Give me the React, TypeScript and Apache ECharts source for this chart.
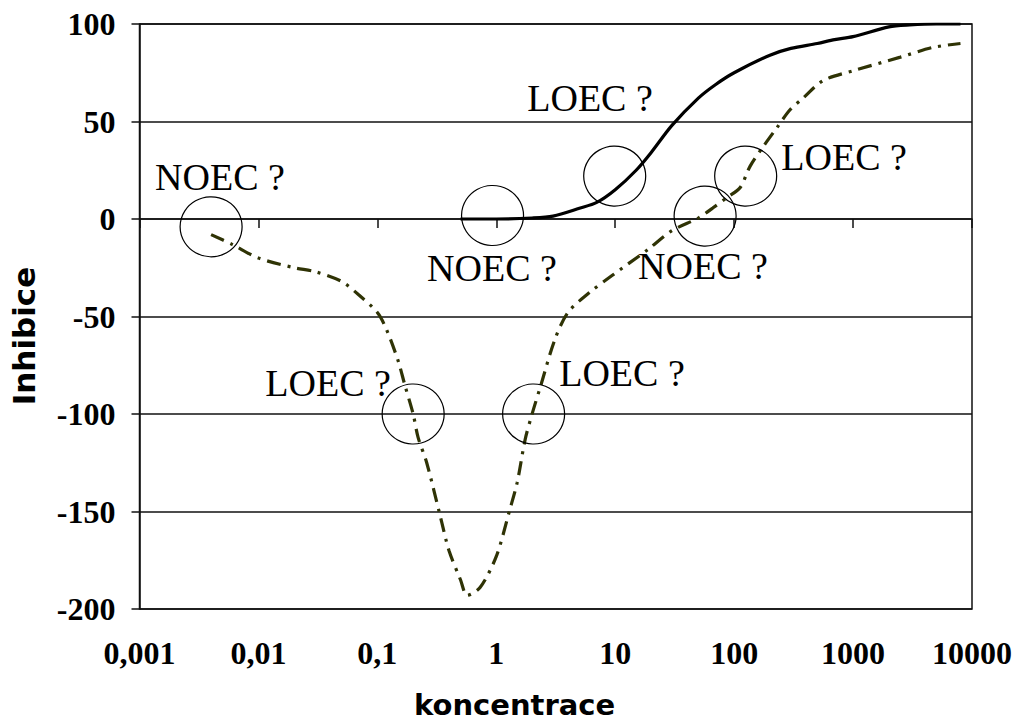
import React, { useEffect, useRef } from "react";
import * as echarts from "echarts";

// concentration values (log axis) and inhibition (%)
const solidConc = [0.5, 1, 2, 3, 5, 7, 10, 15, 20, 30, 50, 70, 100, 200, 300, 500, 700, 1000, 2000, 3000, 5000, 8000];
const solidInhib = [0, 0, 0.5, 1.5, 5.5, 8.5, 15, 25, 34, 48, 62, 69, 75, 84, 87.5, 90, 92, 93.5, 98.5, 99.5, 100, 100];

const dashConc = [0.004, 0.006, 0.01, 0.02, 0.03, 0.05, 0.07, 0.1, 0.12, 0.15, 0.17, 0.2, 0.22, 0.26, 0.34, 0.4, 0.5, 0.57, 0.73, 1, 1.3, 1.5, 1.75, 2, 2.35, 3.1, 4, 6, 9.4, 18.5, 30, 50, 66, 87, 112, 136, 175, 230, 295, 380, 560, 1000, 2500, 4700, 8000];
const dashInhib = [-8, -13, -20, -25, -27, -32, -39, -48, -57, -73, -85, -100, -112, -125, -153, -170, -185, -193, -189, -173, -149, -135, -113, -100, -86, -62, -48, -38, -29, -16, -6, 0.5, 5.6, 11, 16, 27, 37, 47, 56, 62, 71, 76, 83, 88, 90];

// annotation circles (concentration, inhibition)
const circleConc = [0.004, 0.2, 2.06, 0.93, 9.9, 57, 125];
const circleInhib = [-4, -100, -100, 1.8, 22, 1.5, 22];

// annotation texts
const noteText = ["NOEC ?", "LOEC ?", "LOEC ?", "NOEC ?", "LOEC ?", "NOEC ?", "LOEC ?"];
const noteConc = [0.00475, 0.0385, 11.4, 0.92, 6.14, 54.7, 840];
const noteInhib = [21.5, -84, -79, -25, 62, -24, 31.8];

const xTickLabels = ["0,001", "0,01", "0,1", "1", "10", "100", "1000", "10000"];
const yTicks = [-200, -150, -100, -50, 0, 50, 100];

const xTitle = "koncentrace";
const yTitle = "Inhibice";

export default function App() {
  const ref = useRef<HTMLDivElement>(null);
  useEffect(() => {
    if (!ref.current) return;
    const chart = echarts.init(ref.current, null, { renderer: "svg" });
    const serif = "'Liberation Serif', 'Times New Roman', serif";
    const sans = "'DejaVu Sans', Verdana, sans-serif";
    chart.setOption({
      animation: false,
      backgroundColor: "#fff",
      grid: {
        left: 139.5,
        right: 46,
        top: 24,
        bottom: 111,
        show: true,
        borderColor: "#111",
        borderWidth: 1.5,
      },
      xAxis: {
        type: "log",
        logBase: 10,
        min: 0.001,
        max: 10000,
        splitNumber: 7,
        axisLine: { lineStyle: { color: "#111", width: 1.5 } },
        axisTick: { show: true, inside: false, length: 9, lineStyle: { color: "#111", width: 1.5 } },
        splitLine: { show: false },
        minorTick: { show: false },
        axisLabel: {
          fontFamily: serif,
          fontWeight: "bold",
          fontSize: 32,
          color: "#000",
          margin: 28,
          formatter: (v: number) => xTickLabels[Math.round(Math.log10(v)) + 3] ?? "",
        },
      },
      yAxis: {
        type: "value",
        min: yTicks[0],
        max: yTicks[yTicks.length - 1],
        interval: 50,
        axisLine: { show: true, lineStyle: { color: "#111", width: 1.5 } },
        axisTick: { show: true, inside: false, length: 8, lineStyle: { color: "#111", width: 1.5 } },
        splitLine: { show: true, lineStyle: { color: "#111", width: 1.5 } },
        axisLabel: {
          fontFamily: serif,
          fontWeight: "bold",
          fontSize: 32,
          color: "#000",
          margin: 24,
        },
      },
      graphic: [
        {
          type: "text",
          left: 518 - 104,
          top: 690,
          style: { text: xTitle, font: `bold 29px ${sans}`, fill: "#000" },
        },
        {
          type: "text",
          x: 24,
          y: 336,
          rotation: Math.PI / 2,
          style: {
            text: yTitle,
            font: `bold 31px ${sans}`,
            fill: "#000",
            align: "center",
            verticalAlign: "middle",
          },
        },
      ],
      series: [
        {
          name: "solid",
          type: "line",
          data: solidConc.map((c, i) => [c, solidInhib[i]]),
          smooth: 0.3,
          symbol: "none",
          lineStyle: { color: "#000", width: 3.2 },
          z: 3,
        },
        {
          name: "dashed",
          type: "line",
          data: dashConc.map((c, i) => [c, dashInhib[i]]),
          smooth: 0.3,
          symbol: "none",
          lineStyle: { color: "#2f3305", width: 3.2, type: [14, 7, 3, 7] },
          z: 3,
        },
        {
          name: "circles",
          type: "scatter",
          data: circleConc.map((c, i) => [c, circleInhib[i]]),
          symbol: "circle",
          symbolSize: [62, 60],
          itemStyle: { color: "rgba(0,0,0,0)", borderColor: "#000", borderWidth: 1.2, opacity: 1 },
          z: 4,
        },
        {
          name: "notes",
          type: "scatter",
          data: noteConc.map((c, i) => ({ value: [c, noteInhib[i]], name: noteText[i] })),
          symbolSize: 1,
          itemStyle: { color: "rgba(0,0,0,0)", opacity: 1 },
          label: {
            show: true,
            position: "inside",
            formatter: (p: any) => p.name,
            fontFamily: serif,
            fontSize: 38,
            color: "#000",
            opacity: 1,
            textBorderWidth: 0,
            textBorderColor: "transparent",
          },
          z: 5,
        },
      ],
    });
    return () => chart.dispose();
  }, []);
  return (
    <div
      ref={ref}
      style={{ position: "fixed", left: 0, top: 0, width: 1018, height: 720, background: "#fff" }}
    />
  );
}
